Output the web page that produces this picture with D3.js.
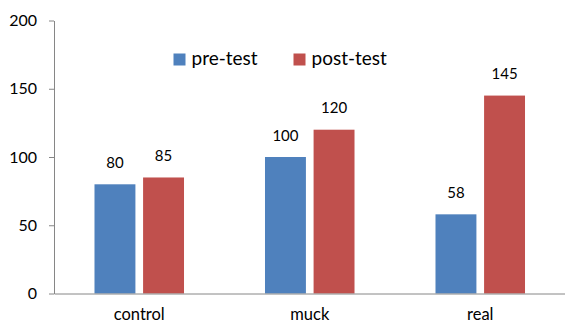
<!DOCTYPE html>
<html>
<head>
<meta charset="utf-8">
<script src="https://cdn.jsdelivr.net/npm/d3@7"></script>
<style>
  html, body { margin: 0; padding: 0; background: #fff; }
  svg { display: block; font-family: Lato, "Open Sans", sans-serif; }
</style>
</head>
<body>
<svg id="chart" width="565" height="327"></svg>
<script>
// Scores per group, before and after the test
const categories = ["control", "muck", "real"];
const seriesNames = ["pre-test", "post-test"];
const preTest = [80, 100, 58];
const postTest = [85, 120, 145];
const yTicks = [0, 50, 100, 150, 200];
const colors = ["#4f81bd", "#c0504d"];

const svg = d3.select("#chart");
const plotLeft = 54, plotRight = 565.5, plotTop = 20.5, plotBottom = 293.5;

const x = d3.scaleBand().domain(categories).range([plotLeft, plotRight]);
const y = d3.scaleLinear().domain([0, 200]).range([plotBottom, plotTop]);

const barW = x.bandwidth() * 0.24;
const gap = x.bandwidth() * 0.045;
const sub = d3.scaleOrdinal().domain(seriesNames)
  .range([-gap / 2 - barW, gap / 2]);

const series = [preTest, postTest];

// bars and value labels
series.forEach((vals, si) => {
  const g = svg.append("g");
  g.selectAll("rect").data(vals).join("rect")
    .attr("x", (d, i) => x(categories[i]) + x.bandwidth() / 2 + sub(seriesNames[si]))
    .attr("y", d => y(d))
    .attr("width", barW)
    .attr("height", d => y(0) - y(d))
    .attr("fill", colors[si]);
  g.selectAll("text").data(vals).join("text")
    .attr("x", (d, i) => x(categories[i]) + x.bandwidth() / 2 + sub(seriesNames[si]) + barW / 2)
    .attr("y", d => y(d) - 16.5)
    .attr("text-anchor", "middle")
    .attr("font-size", 15)
    .attr("fill", "#000")
    .text(d => d);
});

// y axis
const yAxis = svg.append("g")
  .attr("transform", `translate(${plotLeft},0)`)
  .call(d3.axisLeft(y).tickValues(yTicks).tickSize(5).tickPadding(12).tickSizeOuter(0));
yAxis.select(".domain").attr("stroke", "#868686");
yAxis.selectAll(".tick line").attr("stroke", "#868686");
yAxis.selectAll(".tick text").attr("font-size", 16).attr("fill", "#000")
  .attr("font-family", "Lato, sans-serif");

// x axis
const xAxis = svg.append("g")
  .attr("transform", `translate(0,${plotBottom})`)
  .call(d3.axisBottom(x).tickSize(0).tickPadding(15));
xAxis.select(".domain").attr("stroke", "#868686");
xAxis.selectAll(".tick text").attr("font-size", 16.5).attr("fill", "#000")
  .attr("font-family", "Lato, sans-serif");

// legend
const legend = svg.append("g");
const legendX = [173.5, 293.5];
seriesNames.forEach((name, i) => {
  legend.append("rect")
    .attr("x", legendX[i]).attr("y", 53.5)
    .attr("width", 12).attr("height", 12)
    .attr("fill", colors[i]);
  legend.append("text")
    .attr("x", legendX[i] + 18).attr("y", 65)
    .attr("font-size", 19)
    .attr("fill", "#000")
    .text(name);
});
</script>
</body>
</html>
